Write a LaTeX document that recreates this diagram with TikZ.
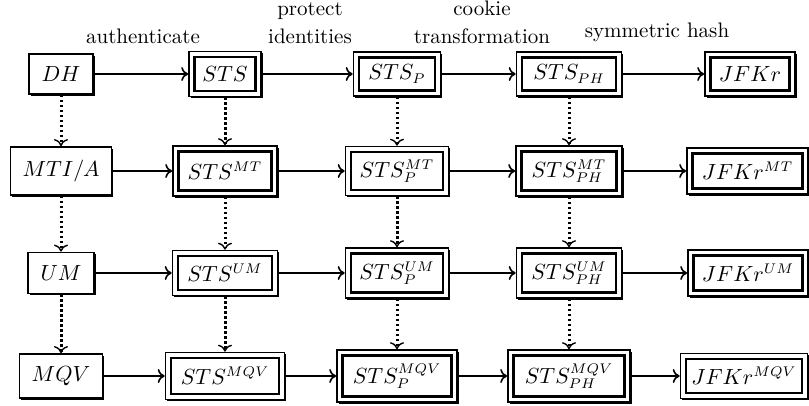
\documentclass[tikz,border=0pt]{standalone}
\usetikzlibrary{arrows.meta,shadows}
\begin{document}
\begin{tikzpicture}[x=0.5pt,y=-0.5pt,
  font=\fontsize{10.5}{12}\selectfont,
  sbox/.style={draw, line width=0.9pt, fill=white, inner sep=0pt,
     drop shadow={shadow xshift=0.9pt,shadow yshift=-0.9pt,fill=black,opacity=1}},
  dbox/.style={sbox, line width=0.8pt,
     path picture={\draw[line width=1.3pt]
       ([shift={(2.8pt,-2.8pt)}]path picture bounding box.north west) rectangle
       ([shift={(-2.8pt,2.8pt)}]path picture bounding box.south east);}},
  wh/.style 2 args={minimum width=#1pt, minimum height=#2pt},
  harr/.style={line width=0.9pt, -{To[length=3.5pt,width=7pt,line width=0.8pt]}},
  varr/.style={line width=1.5pt, dash pattern=on 1.3pt off 1.2pt,
     -{To[length=3.5pt,width=7pt,line width=0.7pt]}},
  lbl/.style={anchor=base}
]
\useasboundingbox (0,0) rectangle (809,406);

% labels
\node[lbl] (l1) at (143,44) {authenticate};
\node[lbl] (l2a) at (310,16) {protect};
\node[lbl] (l2b) at (310,44) {identities};
\node[lbl] (l3a) at (482,16) {cookie};
\node[lbl] (l3b) at (482,44) {transformation};
\node[lbl] (l4) at (657,38) {symmetric hash};

% row 1
\node[sbox,wh={32}{20}]   (dh)   at (61,74)  {$DH$};
\node[dbox,wh={36}{22.5}] (sts)  at (225,74) {$STS$};
\node[dbox,wh={43.5}{22}] (stsp) at (397,74) {$STS_P$};
\node[dbox,wh={52.5}{22}] (stsph) at (569,74) {$STS_{PH}$};
\node[dbox,wh={45}{22}]   (jfk)  at (750,74) {$JFKr$};

% row 2
\node[sbox,wh={50.5}{24}] (mti)   at (61,171)  {$MTI/A$};
\node[dbox,wh={52}{25}]   (stsmt) at (225,171) {$STS^{MT}$};
\node[dbox,wh={51.5}{24.5}] (stspmt) at (397,171) {$STS_P^{MT}$};
\node[dbox,wh={53}{25}]   (stsphmt) at (569,171) {$STS_{PH}^{MT}$};
\node[dbox,wh={60.5}{23}] (jfkmt) at (747.5,171) {$JFKr^{MT}$};

% row 3
\node[sbox,wh={33}{20.5}] (um)    at (61,273)  {$UM$};
\node[dbox,wh={52.5}{22.5}] (stsum) at (225,273) {$STS^{UM}$};
\node[dbox,wh={51.5}{25}] (stspum) at (397,273) {$STS_P^{UM}$};
\node[dbox,wh={52.5}{25}] (stsphum) at (569,273) {$STS_{PH}^{UM}$};
\node[dbox,wh={60}{23}]   (jfkum) at (748,273) {$JFKr^{UM}$};

% row 4
\node[sbox,wh={41.5}{22}] (mqv)    at (61,376)  {$MQV$};
\node[dbox,wh={59.5}{23.5}] (stsmqv) at (225,376) {$STS^{MQV}$};
\node[dbox,wh={60}{26}]   (stspmqv) at (397,376) {$STS_P^{MQV}$};
\node[dbox,wh={61}{26}]   (stsphmqv) at (569,376) {$STS_{PH}^{MQV}$};
\node[dbox,wh={63.5}{22.5}] (jfkmqv) at (744,376) {$JFKr^{MQV}$};

% horizontal arrows
\foreach \a/\b in {dh/sts, sts/stsp, stsp/stsph, stsph/jfk,
  mti/stsmt, stsmt/stspmt, stspmt/stsphmt, stsphmt/jfkmt,
  um/stsum, stsum/stspum, stspum/stsphum, stsphum/jfkum,
  mqv/stsmqv, stsmqv/stspmqv, stspmqv/stsphmqv, stsphmqv/jfkmqv}
  \draw[harr] (\a) -- (\b);

% vertical dotted arrows
\foreach \a/\b in {dh/mti, mti/um, um/mqv,
  sts/stsmt, stsmt/stsum, stsum/stsmqv,
  stsp/stspmt, stspmt/stspum, stspum/stspmqv,
  stsph/stsphmt, stsphmt/stsphum, stsphum/stsphmqv}
  \draw[varr] (\a.south) -- (\b.north);
\end{tikzpicture}
\end{document}
